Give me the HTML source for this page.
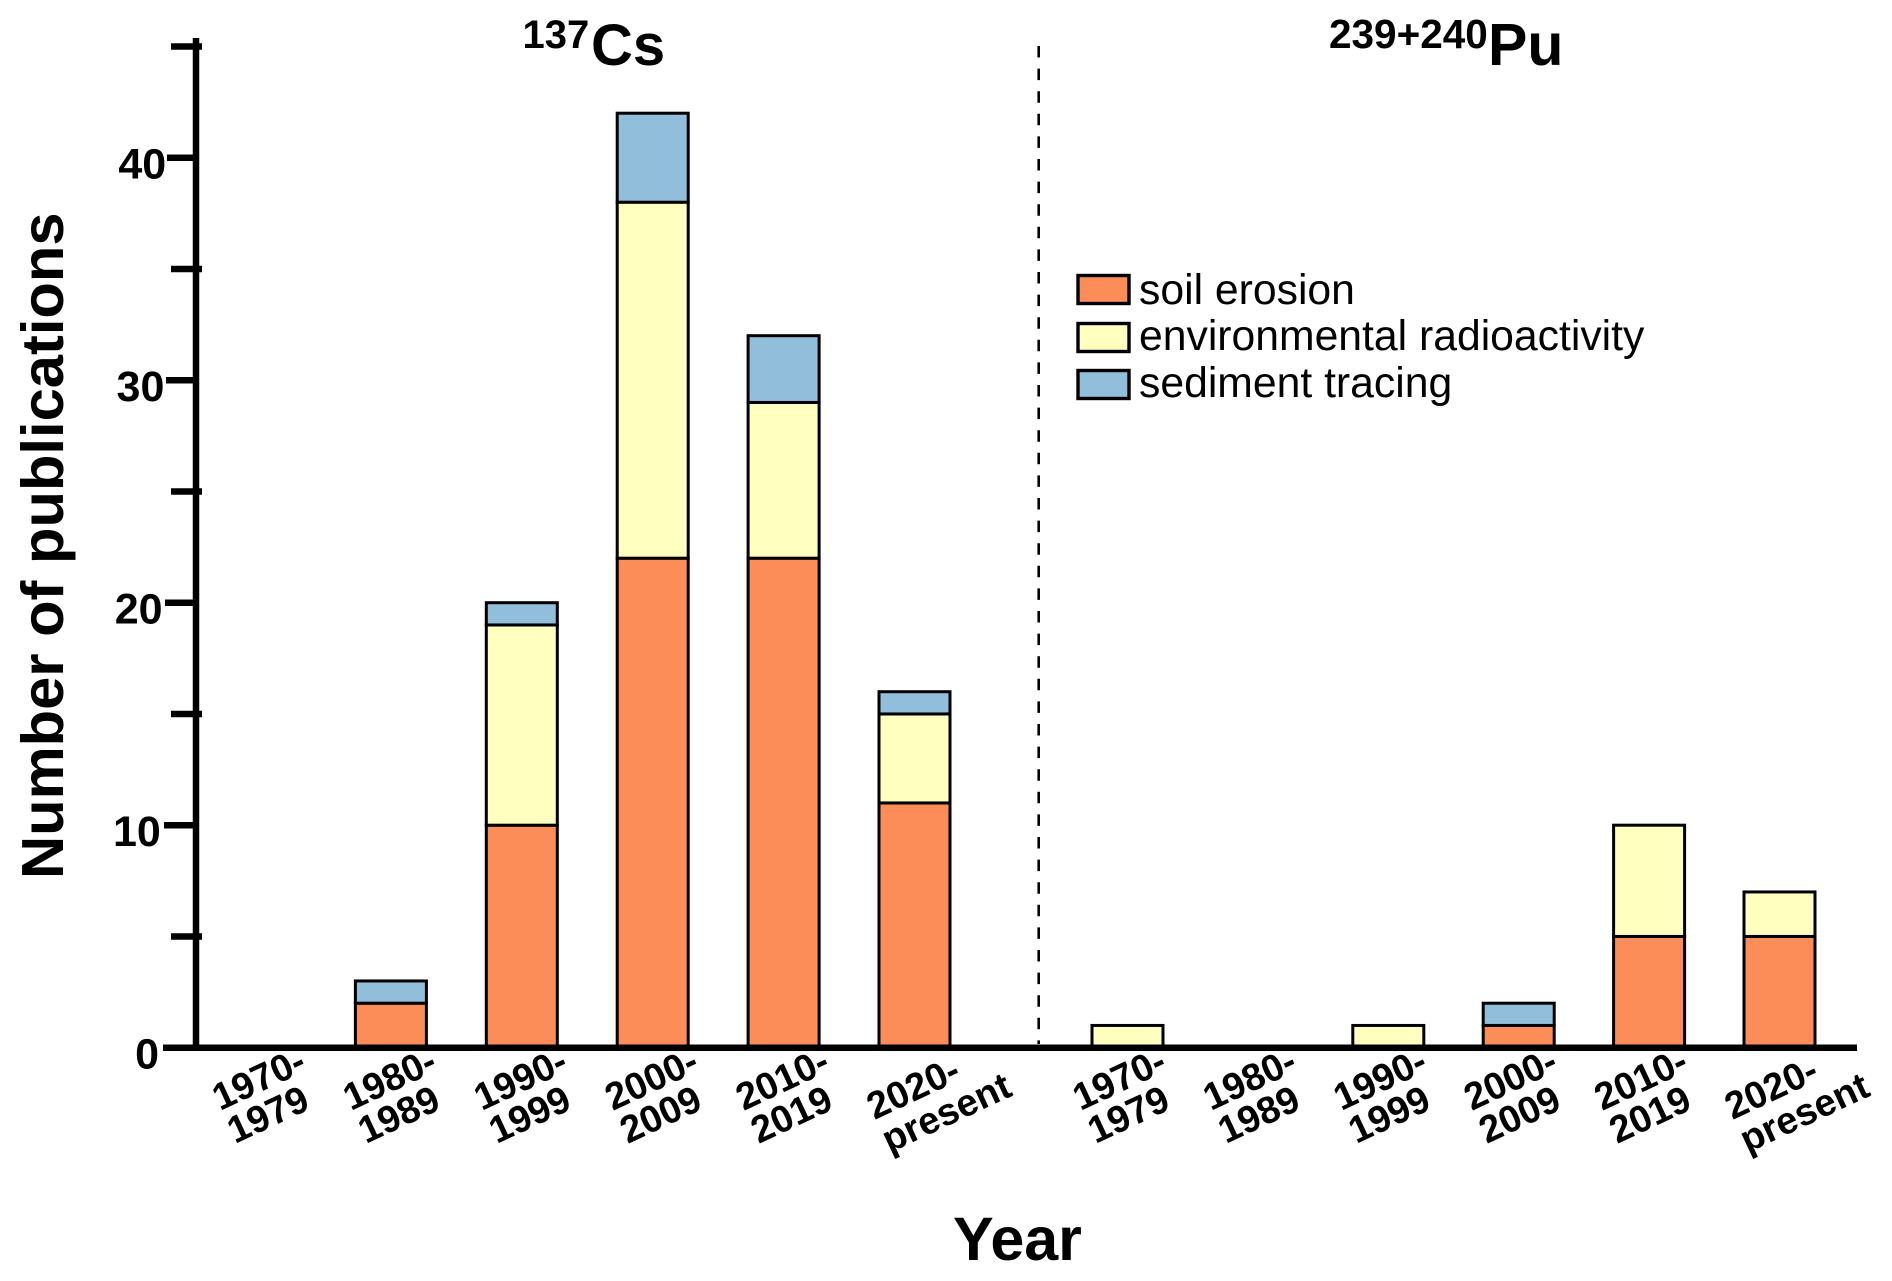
<!DOCTYPE html>
<html lang="en">
<head>
<meta charset="utf-8">
<title>Number of publications by decade</title>
<style>
  html, body { margin: 0; padding: 0; background: #fff; }
  svg { display: block; font-family: "Liberation Sans", Arial, sans-serif; }
</style>
</head>
<body>
<svg id="chart" xmlns="http://www.w3.org/2000/svg" width="1892" height="1281" viewBox="0 0 1892 1281">
  <rect x="0" y="0" width="1892" height="1281" fill="#ffffff"/>
  <g id="plot"></g>
  <line x1="1038.7" y1="46" x2="1038.7" y2="1044" stroke="#000" stroke-width="2.6" stroke-dasharray="11.5 11.1"/>
  <text font-weight="700" fill="#000" y="65"><tspan x="522.5" y="48" font-size="40">137</tspan><tspan x="591" y="65" font-size="58">Cs</tspan></text>
  <text font-weight="700" fill="#000" y="65"><tspan x="1329" y="48" font-size="40.5">239+240</tspan><tspan x="1488" y="65" font-size="59">Pu</tspan></text>
  <text transform="translate(63 879) rotate(-90)" font-size="59.7" font-weight="700" fill="#000">Number of publications</text>
  <text x="953" y="1260" font-size="61" font-weight="700" fill="#000">Year</text>
  <g>
    <rect x="1078" y="275.5" width="51" height="28" fill="#FC8D59" stroke="#000" stroke-width="3.4"/>
    <text x="1139" y="304" font-size="42.7" fill="#000">soil erosion</text>
    <rect x="1078" y="323.5" width="51" height="28" fill="#FFFFBF" stroke="#000" stroke-width="3.4"/>
    <text x="1139" y="350" font-size="42.7" fill="#000">environmental radioactivity</text>
    <rect x="1078" y="370.5" width="51" height="28" fill="#91BFDB" stroke="#000" stroke-width="3.4"/>
    <text x="1139" y="397" font-size="42.7" fill="#000">sediment tracing</text>
  </g>
</svg>
<script>
// Chart data
const decadeLine1 = ['1970-', '1980-', '1990-', '2000-', '2010-', '2020-'];
const decadeLine2 = ['1979', '1989', '1999', '2009', '2019', 'present'];
const csSoilErosion = [0, 2, 10, 22, 22, 11];
const csEnvironmental = [0, 0, 9, 16, 7, 4];
const csSediment = [0, 1, 1, 4, 3, 1];
const puSoilErosion = [0, 0, 0, 1, 5, 5];
const puEnvironmental = [1, 0, 1, 0, 5, 2];
const puSediment = [0, 0, 0, 1, 0, 0];
const majorTicks = [0, 10, 20, 30, 40];
const minorTicks = [5, 15, 25, 35, 45];

const NS = 'http://www.w3.org/2000/svg';
const plot = document.getElementById('plot');

// Axis functions
function yScale(v) { return 1047.7 - v * 22.25; }
function xScale(panel, i) { return panel === 0 ? 260 + i * 130.9 : 1127.5 + i * 130.4; }

function make(tag, attrs, parent) {
  const el = document.createElementNS(NS, tag);
  for (const k in attrs) el.setAttribute(k, attrs[k]);
  parent.appendChild(el);
  return el;
}

// Stacked bars
const panels = [
  { key: 'cs', labelDx: -2, series: [['soil-erosion', csSoilErosion, '#FC8D59'], ['environmental-radioactivity', csEnvironmental, '#FFFFBF'], ['sediment-tracing', csSediment, '#91BFDB']] },
  { key: 'pu', labelDx: -9, series: [['soil-erosion', puSoilErosion, '#FC8D59'], ['environmental-radioactivity', puEnvironmental, '#FFFFBF'], ['sediment-tracing', puSediment, '#91BFDB']] }
];

panels.forEach(function (panel, p) {
  decadeLine1.forEach(function (label, i) {
    const cx = xScale(p, i);
    let total = 0;
    panel.series.forEach(function (s) {
      const value = s[1][i];
      if (value > 0) {
        const yTop = yScale(total + value);
        const yBottom = yScale(total);
        const bar = make('rect', { x: cx - 35.5, y: yTop, width: 71, height: yBottom - yTop, fill: s[2], stroke: '#000', 'stroke-width': 3 }, plot);
        
        
        total += value;
      }
    });

    // Rotated two-line category labels
    const lineTwo = decadeLine2[i];
    const extra = lineTwo.length > 4 ? 9 : 0;
    const startX = cx + panel.labelDx - 38;
    const startY = 1111 + extra;
    const first = make('text', { transform: 'translate(' + startX + ' ' + startY + ') rotate(-25)', 'font-size': 38, 'font-weight': 700, fill: '#000' }, plot);
    first.textContent = label;
    
    
    const second = make('text', { transform: 'translate(' + (startX + 15) + ' ' + (startY + 33) + ') rotate(-25)', 'font-size': 38, 'font-weight': 700, fill: '#000' }, plot);
    second.textContent = lineTwo;
    
    
  });
});

// Y axis line
const yAxis = make('line', { x1: 196, y1: 38, x2: 196, y2: 1050, stroke: '#000', 'stroke-width': 6.5 }, plot);



// X axis line
const xAxis = make('line', { x1: 163, y1: yScale(0), x2: 1857, y2: yScale(0), stroke: '#000', 'stroke-width': 6.5 }, plot);



// Major ticks and labels
majorTicks.forEach(function (v) {
  if (v > 0) {
    const tick = make('line', { x1: 163 + v * 0.1, y1: yScale(v), x2: 196, y2: yScale(v), stroke: '#000', 'stroke-width': 6.5 }, plot);
    
    
  }
  const text = make('text', { x: 159 + v * 0.18, y: yScale(v) + 21, 'text-anchor': 'end', 'font-size': 43, 'font-weight': 700, fill: '#000' }, plot);
  text.textContent = String(v);
  
  
});

// Minor ticks
minorTicks.forEach(function (v) {
  const tick = make('line', { x1: 171, y1: yScale(v), x2: 202, y2: yScale(v), stroke: '#000', 'stroke-width': 6.5 }, plot);
  
  
});
</script>
</body>
</html>
